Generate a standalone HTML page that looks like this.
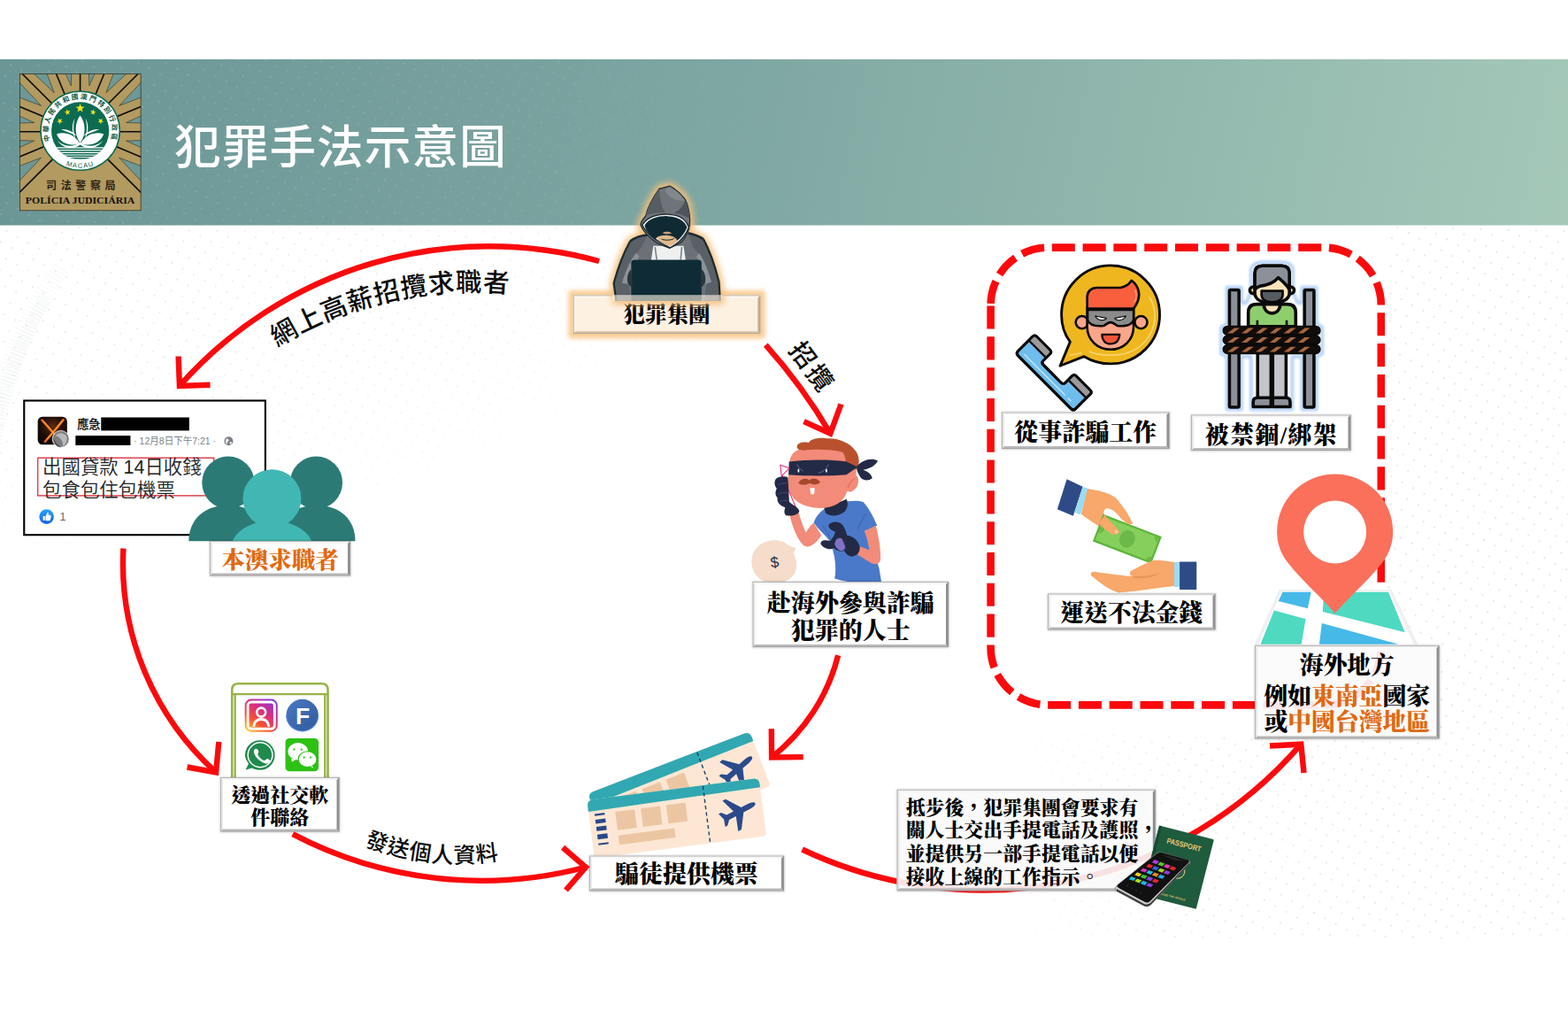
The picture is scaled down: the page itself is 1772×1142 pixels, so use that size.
<!DOCTYPE html>
<html lang="zh-Hant">
<head>
<meta charset="utf-8">
<title>犯罪手法示意圖</title>
<style>
html,body{margin:0;padding:0;background:#fff;}
body{width:1772px;height:1142px;overflow:hidden;position:relative;font-family:"Liberation Sans", "Noto Sans CJK TC", sans-serif;}
svg{position:absolute;left:0;top:0;display:block;}
.lb{font-family:"Liberation Serif", "Noto Serif CJK SC", serif;font-weight:900;}
.sans{font-family:"Liberation Sans", "Noto Sans CJK TC", sans-serif;}
.serif{font-family:"Liberation Serif", "Noto Serif CJK SC", serif;}
</style>
</head>
<body>
<svg width="1772" height="1142" viewBox="0 0 1772 1142">
<defs>
<filter id="blur1" x="-10%" y="-30%" width="120%" height="160%"><feGaussianBlur stdDeviation="1.2"/></filter>
<filter id="blur2" x="-20%" y="-20%" width="140%" height="140%"><feGaussianBlur stdDeviation="1.6"/></filter>
<filter id="blur3" x="-20%" y="-50%" width="140%" height="200%"><feGaussianBlur stdDeviation="2.6"/></filter>
<filter id="blur4" x="-20%" y="-50%" width="140%" height="200%"><feGaussianBlur stdDeviation="3.5"/></filter>
<filter id="blur6" x="-30%" y="-30%" width="160%" height="160%"><feGaussianBlur stdDeviation="5"/></filter>
<pattern id="dots" width="14" height="14" patternUnits="userSpaceOnUse" patternTransform="rotate(28)">
<circle cx="3" cy="3" r="1.1" fill="#dcdfdf"/>
</pattern>
<linearGradient id="fadeB" x1="0" y1="0" x2="1" y2="0"><stop offset="0" stop-color="#fff" stop-opacity="0"/><stop offset="0.35" stop-color="#fff" stop-opacity="0.8"/><stop offset="1" stop-color="#fff" stop-opacity="1"/></linearGradient>
<radialGradient id="fadeL" cx="0" cy="0" r="1" gradientUnits="objectBoundingBox">
<stop offset="0" stop-color="#fff" stop-opacity="1"/><stop offset="0.6" stop-color="#fff" stop-opacity="0.7"/><stop offset="1" stop-color="#fff" stop-opacity="0"/>
</radialGradient>
<mask id="mB" maskUnits="userSpaceOnUse" x="1100" y="830" width="672" height="230"><rect x="1100" y="830" width="672" height="230" fill="url(#fadeB)"/></mask>
<mask id="mL" maskUnits="userSpaceOnUse" x="0" y="250" width="900" height="420"><rect x="0" y="250" width="900" height="420" fill="url(#fadeL)"/></mask>
<pattern id="dotsW" width="14" height="14" patternUnits="userSpaceOnUse" patternTransform="rotate(28)">
<circle cx="3" cy="3" r="1.3" fill="#ffffff"/>
</pattern>
<linearGradient id="fadeH" x1="0" y1="0" x2="1" y2="0"><stop offset="0" stop-color="#fff" stop-opacity="1"/><stop offset="0.6" stop-color="#fff" stop-opacity="0.6"/><stop offset="1" stop-color="#fff" stop-opacity="0"/></linearGradient>
<mask id="mH" maskUnits="userSpaceOnUse" x="0" y="67" width="1000" height="188"><rect x="0" y="67" width="1000" height="188" fill="url(#fadeH)"/></mask>

</defs>
<rect x="0" y="0" width="1772" height="1142" fill="#ffffff"/>
<rect x="1568" y="256" width="204" height="574" fill="url(#dots)" opacity="0.9"/>
<rect x="1100" y="830" width="672" height="230" fill="url(#dots)" mask="url(#mB)" opacity="0.9"/>
<rect x="0" y="256" width="900" height="420" fill="url(#dots)" mask="url(#mL)" opacity="0.8"/>
<path d="M-6 500 C 4 440, 22 385, 52 335" fill="none" stroke="#dfe7e5" stroke-width="16" stroke-dasharray="1.3 2.6" opacity="0.35"/>
<path d="M-8 470 C 6 420, 30 360, 70 300" fill="none" stroke="#e3eae8" stroke-width="22" stroke-dasharray="1.2 3.4" opacity="0.25"/>

<linearGradient id="hdrg" x1="0" y1="67" x2="1772" y2="420" gradientUnits="userSpaceOnUse">
<stop offset="0" stop-color="#6a9696"/>
<stop offset="0.45" stop-color="#7ea6a2"/>
<stop offset="1" stop-color="#a6c9b9"/>
</linearGradient>
<rect x="0" y="67" width="1772" height="187.5" fill="url(#hdrg)"/>
<rect x="0" y="67" width="1000" height="187.5" fill="url(#dotsW)" mask="url(#mH)" opacity="0.13"/>
<text x="197" y="166" font-size="52.5" fill="#ffffff" class="sans" font-weight="500" dominant-baseline="central" letter-spacing="1.2">犯罪手法示意圖</text>

<g id="logo">
<clipPath id="logoclip"><rect x="22.4" y="83.5" width="136.7" height="154.3"/></clipPath>
<rect x="22.4" y="83.5" width="136.7" height="154.3" fill="#b29a60"/>
<g clip-path="url(#logoclip)">
<polygon points="142.6,159.1 342.5,153.0 324.9,241.3" fill="#6d9896" stroke="#1a1a10" stroke-width="0.5"/>
<polygon points="134.7,178.2 321.7,249.1 271.7,323.9" fill="#6d9896" stroke="#1a1a10" stroke-width="0.5"/>
<polygon points="46.5,178.2 -90.5,323.9 -140.5,249.1" fill="#6d9896" stroke="#1a1a10" stroke-width="0.5"/>
<polygon points="38.6,159.1 -143.7,241.3 -161.3,153.0" fill="#6d9896" stroke="#1a1a10" stroke-width="0.5"/>
<polygon points="38.6,138.5 -161.3,144.6 -143.7,56.3" fill="#6d9896" stroke="#1a1a10" stroke-width="0.5"/>
<polygon points="46.5,119.4 -140.5,48.5 -90.5,-26.3" fill="#6d9896" stroke="#1a1a10" stroke-width="0.5"/>
<polygon points="61.2,104.7 -84.5,-32.3 -9.7,-82.3" fill="#6d9896" stroke="#1a1a10" stroke-width="0.5"/>
<polygon points="80.3,96.8 -1.9,-85.5 86.4,-103.1" fill="#6d9896" stroke="#1a1a10" stroke-width="0.5"/>
<polygon points="100.9,96.8 94.8,-103.1 183.1,-85.5" fill="#6d9896" stroke="#1a1a10" stroke-width="0.5"/>
<polygon points="120.0,104.7 190.9,-82.3 265.7,-32.3" fill="#6d9896" stroke="#1a1a10" stroke-width="0.5"/>
<polygon points="134.7,119.4 271.7,-26.3 321.7,48.5" fill="#6d9896" stroke="#1a1a10" stroke-width="0.5"/>
<polygon points="142.6,138.5 324.9,56.3 342.5,144.6" fill="#6d9896" stroke="#1a1a10" stroke-width="0.5"/>
<line x1="130.6" y1="148.8" x2="290.6" y2="148.8" stroke="#0a0a08" stroke-width="1.6"/>
<line x1="127.6" y1="164.1" x2="275.4" y2="225.3" stroke="#0a0a08" stroke-width="1.6"/>
<line x1="118.9" y1="177.1" x2="232.0" y2="290.2" stroke="#0a0a08" stroke-width="1.6"/>
<line x1="62.3" y1="177.1" x2="-50.8" y2="290.2" stroke="#0a0a08" stroke-width="1.6"/>
<line x1="53.6" y1="164.1" x2="-94.2" y2="225.3" stroke="#0a0a08" stroke-width="1.6"/>
<line x1="50.6" y1="148.8" x2="-109.4" y2="148.8" stroke="#0a0a08" stroke-width="1.6"/>
<line x1="53.6" y1="133.5" x2="-94.2" y2="72.3" stroke="#0a0a08" stroke-width="1.6"/>
<line x1="62.3" y1="120.5" x2="-50.8" y2="7.4" stroke="#0a0a08" stroke-width="1.6"/>
<line x1="75.3" y1="111.8" x2="14.1" y2="-36.0" stroke="#0a0a08" stroke-width="1.6"/>
<line x1="90.6" y1="108.8" x2="90.6" y2="-51.2" stroke="#0a0a08" stroke-width="1.6"/>
<line x1="105.9" y1="111.8" x2="167.1" y2="-36.0" stroke="#0a0a08" stroke-width="1.6"/>
<line x1="118.9" y1="120.5" x2="232.0" y2="7.4" stroke="#0a0a08" stroke-width="1.6"/>
<line x1="127.6" y1="133.5" x2="275.4" y2="72.3" stroke="#0a0a08" stroke-width="1.6"/>
</g>
<rect x="22.4" y="83.5" width="136.7" height="154.3" fill="none" stroke="#2a2618" stroke-width="0.7"/>
<circle cx="90.65" cy="147.75" r="44.6" fill="#ffffff" stroke="#0c6a50" stroke-width="1.5"/>
<circle cx="90.65" cy="147.75" r="32.6" fill="#0b6a4f"/>
<clipPath id="discclip"><circle cx="90.65" cy="147.75" r="32.6"/></clipPath>
<g clip-path="url(#discclip)">
<rect x="50" y="166.3" width="82" height="20" fill="#ffffff"/>
<rect x="50" y="167.6" width="82" height="1.5" fill="#0b6a4f"/>
<rect x="50" y="170.3" width="82" height="1.5" fill="#0b6a4f"/>
<rect x="50" y="173.0" width="82" height="1.5" fill="#0b6a4f"/>
<rect x="50" y="175.6" width="82" height="1.5" fill="#0b6a4f"/>
<rect x="50" y="178.0" width="82" height="1.5" fill="#0b6a4f"/>
</g>
<g fill="#ffffff">
<path d="M90.6 130.5 C 84.5 138, 83.5 152, 90.6 161.5 C 97.7 152, 96.7 138, 90.6 130.5 Z"/>
<path d="M84.5 133.5 C 80.5 141, 81 151, 86 158.5 C 82.5 150, 82.5 142, 84.5 133.5 Z"/>
<path d="M96.7 133.5 C 100.7 141, 100.2 151, 95.2 158.5 C 98.7 150, 98.7 142, 96.7 133.5 Z"/>
<path d="M64 151.5 C 72 148.5, 84 151, 90 162 C 80 166, 68 162, 64 151.5 Z"/>
<path d="M117.2 151.5 C 109.2 148.5, 97.2 151, 91.2 162 C 101.2 166, 113.2 162, 117.2 151.5 Z"/>
<path d="M69 146 C 76 145.5, 83 148.5, 87 153.5 C 80 150, 74 148.5, 69 146 Z"/>
<path d="M112.2 146 C 105.2 145.5, 98.2 148.5, 94.2 153.5 C 101.2 150, 107.2 148.5, 112.2 146 Z"/>
<path d="M65 159 C 72 166, 84 167, 90.6 160.5 C 97.2 167, 109.2 166, 116.2 159 C 110 168.5, 97 169, 90.6 163.5 C 84.2 169, 71.2 168.5, 65 159 Z"/>
</g>
<polygon points="90.60,117.00 91.85,120.58 95.64,120.66 92.62,122.96 93.72,126.59 90.60,124.42 87.48,126.59 88.58,122.96 85.56,120.66 89.35,120.58" fill="#f5e51c"/>
<polygon points="75.37,123.32 76.82,125.46 79.32,124.84 77.74,126.88 79.10,129.07 76.67,128.19 75.01,130.16 75.09,127.58 72.70,126.61 75.18,125.89" fill="#f5e51c"/>
<polygon points="106.13,123.32 106.32,125.89 108.80,126.61 106.41,127.58 106.49,130.16 104.83,128.19 102.40,129.07 103.76,126.88 102.18,124.84 104.68,125.46" fill="#f5e51c"/>
<polygon points="65.80,133.68 67.75,135.37 70.01,134.12 69.01,136.50 70.89,138.26 68.32,138.05 67.22,140.38 66.64,137.87 64.08,137.55 66.28,136.21" fill="#f5e51c"/>
<polygon points="115.60,133.68 115.12,136.21 117.32,137.55 114.76,137.87 114.18,140.38 113.08,138.05 110.51,138.26 112.39,136.50 111.39,134.12 113.65,135.37" fill="#f5e51c"/>
<path id="ringtop" d="M57.76 162.39 A 36.0 36.0 0 1 1 123.54 162.39" fill="none"/>
<text font-size="7.8" fill="#0b5a44" class="sans" font-weight="700" text-anchor="middle" letter-spacing="1.95"><textPath href="#ringtop" startOffset="50%">中華人民共和國澳門特別行政區</textPath></text>
<path id="ringbot" d="M68.39 183.37 A 42.0 42.0 0 0 0 112.91 183.37" fill="none"/>
<text font-size="7.6" fill="#0b5a44" class="sans" text-anchor="middle" letter-spacing="1.1"><textPath href="#ringbot" startOffset="50%">MACAU</textPath></text>
<text x="93.6" y="209.8" font-size="12" fill="#2a2212" class="sans" font-weight="700" text-anchor="middle" dominant-baseline="central" letter-spacing="4.6">司法警察局</text>
<text x="90.6" y="230.4" font-size="11.4" fill="#14100a" class="serif" font-weight="700" text-anchor="middle" textLength="123.5" lengthAdjust="spacingAndGlyphs">POLÍCIA JUDICIÁRIA</text>
</g>
<g fill="none" stroke="#fb0a0d" stroke-width="6.4" stroke-linejoin="miter" stroke-miterlimit="10">
<path d="M906.6 959.5 A475.1 475.1 0 0 0 1470.3 840.7"/>
<path d="M1435.0 842.5 L1470.3 840.7 L1473.5 873.0"/>
</g>

<path d="M1119.6 344.6 A65 65 0 0 1 1184.6 279.6 L1495.8 279.6 A65 65 0 0 1 1560.8 344.6 L1560.8 731.4 A65 65 0 0 1 1495.8 796.4 L1184.6 796.4 A65 65 0 0 1 1119.6 731.4 Z" fill="none" stroke="#fb0a0d" stroke-width="8.6" stroke-dasharray="26.06 8.745" stroke-dashoffset="-1.7"/>

<g id="fbpost">
<rect x="27.26" y="452.52" width="272.58" height="151.69" rx="0.00" fill="#ffffff" stroke="#000000" stroke-width="2.1"/>
<radialGradient id="avg" cx="0.5" cy="0.35" r="0.7"><stop offset="0" stop-color="#5a2a10"/><stop offset="0.6" stop-color="#1a0c08"/><stop offset="1" stop-color="#0a0605"/></radialGradient>
<rect x="42.66" y="470.77" width="33.18" height="31.52" rx="5.21" fill="url(#avg)"/>
<path d="M 47.40 474.56 C 53.33 480.96 59.26 488.07 67.55 497.55 M 71.58 474.09 C 66.37 480.96 60.44 488.07 50.96 498.74" fill="none" stroke="#e8601a" stroke-width="2.6" stroke-linecap="round"/>
<path d="M 48.83 475.51 C 54.04 480.96 59.26 487.36 65.18 494.47 M 70.63 475.03 C 65.89 480.96 60.68 487.36 53.33 495.89" fill="none" stroke="#ffc93a" stroke-width="1.0" stroke-linecap="round"/>
<circle cx="68.74" cy="495.89" r="9.48" fill="#7d7d80" stroke="#ffffff" stroke-width="0.8"/>
<path d="M 62.81 492.10 C 65.18 488.07 72.29 488.07 75.37 492.81 C 76.32 497.55 74.66 502.29 71.11 504.19 C 71.11 498.74 68.74 494.00 62.81 492.10 Z" fill="#b9b9bb"/>
<path d="M 60.44 494.00 C 62.10 499.92 65.18 503.48 69.21 505.14 C 65.18 505.37 61.15 502.29 60.44 494.00 Z" fill="#3a3a3c"/>
<text x="87.2" y="479.3" font-size="13.2" font-weight="700" fill="#1c1e21" class="sans" dominant-baseline="central">應急</text>
<rect x="114.25" y="471.48" width="99.55" height="14.93" rx="0.00" fill="#000"/>
<rect x="85.33" y="492.10" width="62.10" height="10.90" rx="0.00" fill="#000"/>
<text x="151.2" y="497.8" font-size="11.6" fill="#7b7f86" class="sans" dominant-baseline="central" textLength="92.9" lengthAdjust="spacingAndGlyphs">· 12月8日下午7:21 ·</text>
<circle cx="258.36" cy="498.26" r="4.98" fill="#7b7f86"/>
<path d="M 255.51 495.89 C 257.41 494.94 259.30 496.37 258.36 498.26 C 256.93 499.21 255.98 500.63 256.93 502.05 C 255.04 501.11 254.09 498.26 255.51 495.89 Z M 259.78 499.21 C 261.67 498.74 262.62 500.16 261.67 501.58 C 260.73 502.53 259.30 501.11 259.78 499.21 Z" fill="#ffffff" opacity="0.85"/>
<rect x="42.66" y="517.22" width="199.10" height="42.66" rx="0.00" fill="none" stroke="#e0434f" stroke-width="1.5"/>
<text x="48.1" y="527.9" font-size="21.4" fill="#222326" class="sans" font-weight="350" dominant-baseline="central">出國貸款 14日收錢</text>
<text x="48.1" y="553.5" font-size="21.4" fill="#222326" class="sans" font-weight="350" dominant-baseline="central">包食包住包機票</text>
<linearGradient id="likeg" x1="0" y1="0" x2="0" y2="1"><stop offset="0" stop-color="#2aa4ff"/><stop offset="1" stop-color="#1060e8"/></linearGradient>
<circle cx="52.62" cy="583.59" r="8.30" fill="url(#likeg)"/>
<path d="M 48.59 582.88 L 50.72 582.88 L 50.72 587.86 L 48.59 587.86 Z M 51.43 583.12 C 52.62 581.69 53.33 580.27 53.33 578.85 C 54.52 578.38 55.23 579.80 54.75 581.69 L 56.89 581.69 C 57.83 582.17 57.83 583.12 57.36 583.59 C 57.83 584.30 57.60 585.01 57.12 585.49 C 57.36 586.20 57.12 586.91 56.65 587.15 C 56.65 587.86 56.17 588.33 55.46 588.33 L 52.62 588.33 C 52.15 588.33 51.67 588.09 51.43 587.86 Z" fill="#ffffff"/>
<text x="67.6" y="584.1" font-size="12.5" fill="#65676b" class="sans" dominant-baseline="central">1</text>
</g>

<g id="people">
<circle cx="257.88" cy="545.19" r="29.63" fill="#2c7a76"/>
<path d="M 213.32 611.32 C 213.32 587.38 230.25 570.79 257.88 570.79 C 285.51 570.79 302.44 587.38 302.44 611.32 Z" fill="#2c7a76"/>
<circle cx="357.43" cy="545.19" r="29.63" fill="#2c7a76"/>
<path d="M 313.34 611.32 C 313.34 587.38 330.10 570.79 357.43 570.79 C 384.76 570.79 401.52 587.38 401.52 611.32 Z" fill="#2c7a76"/>
<circle cx="307.42" cy="563.21" r="32.95" fill="#41b7b3"/>
<path d="M 261.44 617.25 C 261.44 604.92 278.91 588.33 307.42 588.33 C 335.93 588.33 353.40 604.92 353.40 617.25 Z" fill="#41b7b3"/>
</g>

<rect x="236.5" y="610.5" width="160.5" height="41.0" fill="#000" opacity="0.18" filter="url(#blur1)"/>
<rect x="237" y="611" width="159" height="39.5" fill="#fff" fill-opacity="1"/>
<polygon points="237,611 396,611 393.0,614.0 240.0,614.0" fill="#f4f4f4"/>
<polygon points="237,611 240.0,614.0 240.0,647.5 237,650.5" fill="#e9e9e9"/>
<polygon points="237,650.5 240.0,647.5 393.0,647.5 396,650.5" fill="#b9b9b9"/>
<polygon points="396,611 396,650.5 393.0,647.5 393.0,614.0" fill="#8f8f8f"/>
<rect x="237.5" y="611.5" width="158" height="38.5" fill="none" stroke="#9a9a9a" stroke-width="1" opacity="0.7"/>
<text x="316.5" y="632.0" font-size="26.5" fill="#e0690f" text-anchor="middle" dominant-baseline="central" class="lb" dy="0.7" >本澳求職者</text>
<rect x="642.3" y="327.9" width="222.5" height="54.60000000000002" rx="3" fill="#f9cd95" filter="url(#blur3)"/>
<rect x="647.8" y="333.4" width="211.5" height="43.60000000000002" fill="#fdf1e2" fill-opacity="1"/>
<polygon points="647.8,333.4 859.3,333.4 856.3,336.4 650.8,336.4" fill="#fffaf3"/>
<polygon points="647.8,333.4 650.8,336.4 650.8,374.0 647.8,377" fill="#fdf3e6"/>
<polygon points="647.8,377 650.8,374.0 856.3,374.0 859.3,377" fill="#dcc6a8"/>
<polygon points="859.3,333.4 859.3,377 856.3,374.0 856.3,336.4" fill="#c9b296"/>
<rect x="648.3" y="333.9" width="210.5" height="42.60000000000002" fill="none" stroke="#9a9a9a" stroke-width="1" opacity="0.7"/>
<text x="753.55" y="355.0" font-size="24.5" fill="#000" text-anchor="middle" dominant-baseline="central" class="lb" dy="0.7" >犯罪集團</text>
<g id="hacker">
<path d="M 756.71 210.11 L 744.88 213.39 C 738.31 222.59 731.74 234.41 729.77 243.61 C 726.49 247.55 723.86 251.49 723.86 254.12 C 725.18 258.06 727.80 262.00 731.74 265.28 C 725.18 265.94 717.29 268.57 712.04 272.51 C 705.47 284.33 698.24 302.72 693.65 319.80 L 696.27 339.51 L 813.85 339.51 L 812.54 318.49 C 807.94 300.10 801.37 281.71 794.80 269.88 C 789.55 266.60 784.29 264.63 777.72 263.31 C 780.35 258.06 781.01 252.80 779.70 247.55 C 779.04 238.35 777.07 230.47 774.44 225.22 C 769.84 218.65 763.27 213.39 756.71 210.11 Z" fill="#f4bf7c" stroke="#f4bf7c" stroke-width="9" stroke-linejoin="round" filter="url(#blur4)" opacity="0.95"/>
<path d="M 756.71 210.11 L 744.88 213.39 C 738.31 222.59 731.74 234.41 729.77 243.61 C 726.49 247.55 723.86 251.49 723.86 254.12 C 725.18 258.06 727.80 262.00 731.74 265.28 C 725.18 265.94 717.29 268.57 712.04 272.51 C 705.47 284.33 698.24 302.72 693.65 319.80 L 696.27 339.51 L 813.85 339.51 L 812.54 318.49 C 807.94 300.10 801.37 281.71 794.80 269.88 C 789.55 266.60 784.29 264.63 777.72 263.31 C 780.35 258.06 781.01 252.80 779.70 247.55 C 779.04 238.35 777.07 230.47 774.44 225.22 C 769.84 218.65 763.27 213.39 756.71 210.11 Z" fill="#6b7177"/>
<path d="M 712.04 272.51 C 705.47 284.33 698.24 302.72 693.65 319.80 L 696.27 339.51 L 713.35 339.51 L 709.41 313.23 C 713.35 300.10 717.29 286.96 725.18 279.08 L 731.74 265.28 C 725.18 265.94 717.29 268.57 712.04 272.51 Z" fill="#596167"/>
<path d="M 794.80 269.88 C 801.37 281.71 807.94 300.10 812.54 318.49 L 813.85 339.51 L 796.12 339.51 L 799.40 313.23 C 796.12 300.10 790.86 286.96 782.98 279.08 L 777.72 263.31 C 784.29 264.63 789.55 266.60 794.80 269.88 Z" fill="#596167"/>
<path d="M 702.84 319.80 C 706.78 306.67 712.04 294.84 718.61 285.65 L 722.55 289.59 C 717.29 298.78 713.35 309.29 710.73 321.12 Z" fill="#8c9297"/>
<path d="M 804.00 318.49 C 800.71 306.67 796.12 294.84 790.20 285.65 L 786.92 289.59 C 791.52 298.78 794.80 309.29 796.77 321.12 Z" fill="#8c9297"/>
<path d="M 712.04 272.51 C 705.47 284.33 698.24 302.72 693.65 319.80 L 696.27 339.51" fill="none" stroke="#1c2a30" stroke-width="2.2"/>
<path d="M 794.80 269.88 C 801.37 281.71 807.94 300.10 812.54 318.49 L 813.85 339.51" fill="none" stroke="#1c2a30" stroke-width="2.2"/>
<path d="M 731.74 265.28 C 725.18 265.94 717.29 268.57 712.04 272.51 M 777.72 263.31 C 784.29 264.63 789.55 266.60 794.80 269.88" fill="none" stroke="#1c2a30" stroke-width="2.5"/>
<path d="M 738.31 277.76 L 772.47 277.76 L 775.10 294.84 L 735.69 294.84 Z" fill="#eef0f0"/>
<path d="M 740.28 279.08 L 742.25 293.53 M 770.50 279.08 L 769.19 293.53" fill="none" stroke="#7a8085" stroke-width="1.6"/>
<path d="M 756.71 210.11 L 744.88 213.39 C 738.31 222.59 731.74 234.41 729.77 243.61 C 726.49 247.55 723.86 251.49 723.86 254.12 C 726.49 260.69 733.06 268.57 743.57 275.14 L 756.71 280.39 L 769.84 273.82 C 775.10 268.57 779.04 262.00 779.70 247.55 C 779.04 238.35 777.07 230.47 774.44 225.22 C 769.84 218.65 763.27 213.39 756.71 210.11 Z" fill="#6e7479" stroke="#1c2a30" stroke-width="1.2"/>
<path d="M 744.88 213.39 C 738.31 222.59 731.74 234.41 729.77 243.61 C 735.69 240.98 743.57 239.67 751.45 240.32 C 747.51 233.10 745.54 222.59 744.88 213.39 Z" fill="#565d63"/>
<path d="M 774.44 225.22 C 777.07 230.47 779.04 238.35 779.70 247.55 C 775.10 243.61 768.53 241.24 761.96 240.72 C 768.53 237.04 772.47 231.78 774.44 225.22 Z" fill="#4d545a"/>
<path d="M 751.45 214.71 C 754.08 221.27 761.96 227.84 773.78 226.53 C 769.84 219.96 763.27 214.71 756.71 210.76 Z" fill="#81878c"/>
<path d="M 725.83 254.12 C 731.74 244.92 743.57 241.64 754.08 242.03 C 765.90 242.29 775.10 246.89 778.38 256.74 C 775.10 265.94 768.53 273.82 757.36 279.73 C 744.88 273.82 731.74 265.94 725.83 254.12 Z" fill="#f4f5f5" stroke="#1c2a30" stroke-width="1.3"/>
<path d="M 728.46 254.77 C 733.06 246.89 743.57 243.87 754.08 244.13 C 765.24 244.40 773.78 248.86 776.41 256.74 C 773.78 263.31 769.84 268.57 764.59 272.51 C 760.65 268.57 754.08 265.94 748.82 266.60 C 744.88 266.99 742.25 268.57 740.28 270.54 C 735.03 266.60 730.43 261.34 728.46 254.77 Z" fill="#0f2a33"/>
<path d="M 741.60 268.57 C 744.88 265.94 750.14 265.28 755.39 265.94 C 760.65 266.60 763.93 268.57 765.24 271.20 C 763.27 275.14 760.65 277.11 757.36 278.03 C 751.45 277.11 746.20 273.82 741.60 268.57 Z" fill="#e3b98d"/>
<path d="M 746.20 269.22 C 750.14 271.20 758.02 271.20 762.62 268.83 C 760.65 272.51 748.82 272.77 746.20 269.22 Z" fill="#0f2a33"/>
<path d="M 748.82 263.31 C 751.45 261.34 756.71 261.34 759.33 263.58 C 756.71 264.63 751.45 264.63 748.82 263.31 Z" fill="#c9a27a"/>
<path d="M 717.03 293.53 L 789.15 293.53 Q 792.83 293.53 792.83 297.21 L 792.83 339.51 L 713.35 339.51 L 713.35 297.21 Q 713.35 293.53 717.03 293.53 Z" fill="#0f2c36"/>
<path d="M 713.35 304.04 C 709.41 307.98 708.10 313.23 709.41 319.80 L 714.67 326.37 Z M 792.83 304.04 C 796.77 307.98 798.09 313.23 796.77 319.80 L 791.52 326.37 Z" fill="#2a363c"/>
<rect x="692.33" y="333.20" width="123.49" height="6.57" rx="0.00" fill="#fdf3e6" opacity="0.62"/>
</g>

<g id="social">
<path d="M 262.19 880.63 L 262.19 779.35 Q 262.19 772.29 269.25 772.29 L 363.47 772.29 Q 370.53 772.29 370.53 779.35 L 370.53 880.63" fill="#ffffff" stroke="#98b349" stroke-width="2.6"/>
<path d="M 262.19 784.13 L 370.53 784.13 M 265.60 784.13 L 265.60 880.63 M 367.23 784.13 L 367.23 880.63" fill="none" stroke="#98b349" stroke-width="2.3"/>
<linearGradient id="igg" x1="0.15" y1="1" x2="0.85" y2="0"><stop offset="0" stop-color="#fdc13a"/><stop offset="0.3" stop-color="#f6512f"/><stop offset="0.65" stop-color="#d32c8c"/><stop offset="1" stop-color="#7a3fd8"/></linearGradient>
<rect x="276.64" y="789.59" width="37.10" height="37.10" rx="7.06" fill="url(#igg)"/>
<rect x="280.06" y="793.00" width="30.27" height="30.27" rx="3.87" fill="none" stroke="#ffffff" stroke-width="2.9"/>
<circle cx="295.19" cy="804.61" r="5.01" fill="none" stroke="#ffffff" stroke-width="2.6"/>
<path d="M 286.66 820.88 C 287.23 814.62 291.21 812.57 295.19 812.57 C 299.17 812.57 303.16 814.62 303.73 820.88" fill="none" stroke="#ffffff" stroke-width="2.9"/>
<linearGradient id="fbg" x1="0" y1="0" x2="1" y2="1"><stop offset="0" stop-color="#4a78c2"/><stop offset="1" stop-color="#2f5a9a"/></linearGradient>
<circle cx="341.62" cy="808.02" r="18.21" fill="url(#fbg)"/>
<path d="M 323.64 808.02 A 17.98 17.98 0 0 0 359.60 808.02" fill="none" stroke="#5b8ee6" stroke-width="1.1" opacity="0.9"/>
<text x="342.08" y="818.26" font-size="26.5" font-weight="700" fill="#ffffff" class="sans" text-anchor="middle">F</text>
<path d="M 277.55 869.82 L 280.97 862.42 C 277.55 857.87 276.64 854.45 276.98 851.61 A 16.84 16.84 0 1 1 293.49 869.82 C 290.07 869.82 286.66 868.68 284.38 867.54 Z" fill="#1f8a4c"/>
<circle cx="294.05" cy="852.75" r="13.88" fill="none" stroke="#ffffff" stroke-width="1.5"/>
<path d="M 288.36 845.92 C 290.64 844.78 291.78 847.62 292.57 849.33 C 291.78 851.04 290.98 851.61 291.44 852.75 C 293.49 856.16 295.76 858.09 298.61 859.23 C 299.74 859.00 300.88 857.30 302.02 856.96 C 303.73 857.64 305.43 858.78 305.78 859.57 C 305.43 861.85 302.59 862.99 300.31 862.42 C 294.62 861.05 288.93 856.16 287.23 851.04 C 286.43 848.76 286.88 846.71 288.36 845.92 Z" fill="#ffffff"/>
<rect x="322.50" y="833.97" width="37.55" height="37.33" rx="4.55" fill="#2dc114"/>
<ellipse cx="336.73" cy="848.76" rx="11.38" ry="9.67" fill="#ffffff"/>
<path d="M 328.76 856.73 L 329.90 860.71 L 334.45 857.87 Z" fill="#ffffff"/>
<ellipse cx="347.54" cy="857.64" rx="10.47" ry="8.88" fill="#ffffff" stroke="#2dc114" stroke-width="1.2"/>
<path d="M 352.66 865.26 L 354.71 867.54 L 350.38 865.83 Z" fill="#ffffff"/>
<circle cx="332.40" cy="846.71" r="1.14" fill="#2dc114"/>
<circle cx="340.71" cy="846.71" r="1.14" fill="#2dc114"/>
<circle cx="343.56" cy="855.59" r="1.14" fill="#2dc114"/>
<circle cx="350.95" cy="855.59" r="1.14" fill="#2dc114"/>
</g>

<rect x="248.5" y="877.5" width="136.0" height="63.0" fill="#000" opacity="0.18" filter="url(#blur1)"/>
<rect x="249" y="878" width="134.5" height="61.5" fill="#fff" fill-opacity="1"/>
<polygon points="249,878 383.5,878 380.5,881.0 252.0,881.0" fill="#f4f4f4"/>
<polygon points="249,878 252.0,881.0 252.0,936.5 249,939.5" fill="#e9e9e9"/>
<polygon points="249,939.5 252.0,936.5 380.5,936.5 383.5,939.5" fill="#b9b9b9"/>
<polygon points="383.5,878 383.5,939.5 380.5,936.5 380.5,881.0" fill="#8f8f8f"/>
<rect x="249.5" y="878.5" width="133.5" height="60.5" fill="none" stroke="#9a9a9a" stroke-width="1" opacity="0.7"/>
<text x="316.25" y="898" font-size="22" fill="#000" text-anchor="middle" dominant-baseline="central" class="lb" dy="0.7" >透過社交軟</text>
<text x="316.25" y="923" font-size="22" fill="#000" text-anchor="middle" dominant-baseline="central" class="lb" dy="0.7" >件聯絡</text>
<g id="tickets">
<g transform="translate(664.2 896.4) rotate(-21.0)">
<path d="M0 6 Q0 0 6 0 L190 0 Q196 0 196 6 L196 62 Q196 66 192 66 L4 66 Q0 66 0 62 Z" fill="#fde7d4"/>
<path d="M0 14.0 L0 7 Q0 0 7 0 L189 0 Q196 0 196 7 L196 11.5 Z" fill="#31a8b1"/>
<rect x="30" y="17" width="22" height="21" fill="#ecc6a3"/>
<rect x="59" y="17" width="22" height="21" fill="#ecc6a3"/>
<rect x="88" y="17" width="22" height="21" fill="#ecc6a3"/>
<rect x="30" y="44" width="64" height="10.5" fill="#ecc6a3"/>
<rect x="6.5" y="16.5" width="11.5" height="2.2" fill="#27478a"/>
<rect x="6.5" y="23" width="11.5" height="4.5" fill="#27478a"/>
<rect x="6.5" y="31" width="11.5" height="5" fill="#27478a"/>
<rect x="6.5" y="40" width="11.5" height="5.5" fill="#27478a"/>
<rect x="6.5" y="50" width="11.5" height="2" fill="#27478a"/>
<line x1="132" y1="1" x2="132" y2="65" stroke="#1f3f6a" stroke-width="1.4" stroke-dasharray="4.2 3.2"/>
<g transform="translate(168 35) rotate(70) scale(1.02)"><path d="M0 -21 C2.2 -21 3 -17 3 -13 L3 -5 L19 6 L19 10 L3 4.5 L3 13 L8 17.5 L8 20.5 L0 18 L-8 20.5 L-8 17.5 L-3 13 L-3 4.5 L-19 10 L-19 6 L-3 -5 L-3 -13 C-3 -17 -2.2 -21 0 -21 Z" fill="#2b4a8b"/></g>
</g>
<g transform="translate(663.3 904) rotate(-7.4)">
<path d="M0 6 Q0 0 6 0 L190 0 Q196 0 196 6 L196 62 Q196 66 192 66 L4 66 Q0 66 0 62 Z" fill="#fde7d4"/>
<path d="M0 13.0 L0 7 Q0 0 7 0 L189 0 Q196 0 196 7 L196 10.5 Z" fill="#31a8b1"/>
<rect x="30" y="17" width="22" height="21" fill="#ecc6a3"/>
<rect x="59" y="17" width="22" height="21" fill="#ecc6a3"/>
<rect x="88" y="17" width="22" height="21" fill="#ecc6a3"/>
<rect x="30" y="44" width="64" height="10.5" fill="#ecc6a3"/>
<rect x="6.5" y="16.5" width="11.5" height="2.2" fill="#27478a"/>
<rect x="6.5" y="23" width="11.5" height="4.5" fill="#27478a"/>
<rect x="6.5" y="31" width="11.5" height="5" fill="#27478a"/>
<rect x="6.5" y="40" width="11.5" height="5.5" fill="#27478a"/>
<rect x="6.5" y="50" width="11.5" height="2" fill="#27478a"/>
<line x1="132" y1="1" x2="132" y2="65" stroke="#1f3f6a" stroke-width="1.4" stroke-dasharray="4.2 3.2"/>
<g transform="translate(168 35) rotate(70) scale(1.02)"><path d="M0 -21 C2.2 -21 3 -17 3 -13 L3 -5 L19 6 L19 10 L3 4.5 L3 13 L8 17.5 L8 20.5 L0 18 L-8 20.5 L-8 17.5 L-3 13 L-3 4.5 L-19 10 L-19 6 L-3 -5 L-3 -13 C-3 -17 -2.2 -21 0 -21 Z" fill="#2b4a8b"/></g>
</g>
</g>

<rect x="665.5" y="966.0" width="221.5" height="41.5" fill="#000" opacity="0.18" filter="url(#blur1)"/>
<rect x="666" y="966.5" width="220" height="40.0" fill="#fff" fill-opacity="1"/>
<polygon points="666,966.5 886,966.5 883.0,969.5 669.0,969.5" fill="#f4f4f4"/>
<polygon points="666,966.5 669.0,969.5 669.0,1003.5 666,1006.5" fill="#e9e9e9"/>
<polygon points="666,1006.5 669.0,1003.5 883.0,1003.5 886,1006.5" fill="#b9b9b9"/>
<polygon points="886,966.5 886,1006.5 883.0,1003.5 883.0,969.5" fill="#8f8f8f"/>
<rect x="666.5" y="967.0" width="219" height="39.0" fill="none" stroke="#9a9a9a" stroke-width="1" opacity="0.7"/>
<text x="776.0" y="987.5" font-size="27" fill="#000" text-anchor="middle" dominant-baseline="central" class="lb" dy="0.7" >騙徒提供機票</text>
<g id="thief">
<path d="M 849.45 634.68 C 849.45 618.92 862.06 610.26 875.45 610.26 C 882.54 610.26 888.05 612.62 891.99 616.56 L 899.56 618.92 L 896.72 625.22 C 900.66 631.53 901.45 639.40 898.30 647.28 C 893.57 655.16 884.12 659.10 875.45 659.10 C 860.48 659.10 849.45 648.86 849.45 634.68 Z" fill="#f5dccb"/>
<text x="875.4" y="635.5" font-size="17" fill="#232a45" class="sans" text-anchor="middle" dominant-baseline="central" transform="rotate(-8 875.4 635.5)">$</text>
<path d="M 934.53 573.23 C 947.14 566.93 966.04 563.78 975.50 566.93 C 981.80 573.23 988.10 585.84 991.25 593.71 L 977.07 600.01 C 981.80 611.04 989.68 626.80 993.62 642.55 L 995.98 656.73 C 981.80 659.89 959.74 659.10 943.20 653.58 C 945.56 642.55 943.99 626.80 937.68 611.04 C 931.38 603.17 925.08 598.44 919.57 590.56 C 921.93 582.68 928.23 576.38 934.53 573.23 Z" fill="#4b79c9"/>
<path d="M 969.19 598.44 C 970.77 593.71 973.92 587.41 978.65 579.53 M 929.81 593.71 C 932.96 598.44 936.11 603.17 938.47 609.47" fill="none" stroke="#3a62ab" stroke-width="1"/>
<path d="M 891.99 579.53 C 895.14 595.29 901.45 609.47 907.75 615.77 C 914.05 620.50 921.93 614.19 928.23 604.74 L 919.57 590.56 C 915.63 593.71 912.48 598.44 910.90 601.59 C 907.75 595.29 904.60 585.84 902.23 577.96 Z" fill="#f28b79"/>
<path d="M 977.07 600.01 L 989.68 593.71 C 992.83 604.74 995.19 618.92 995.19 629.95 C 995.19 636.25 991.25 638.62 984.95 636.25 L 969.19 626.80 L 971.56 617.35 L 982.59 621.28 C 981.01 614.19 979.44 606.32 977.07 600.01 Z" fill="#f28b79"/>
<path d="M 931.38 573.23 C 937.68 570.87 950.29 566.93 956.59 563.78 C 958.95 568.50 958.17 574.81 953.44 578.75 C 947.14 583.47 937.68 583.47 932.96 579.53 Z" fill="#232a45"/>
<path d="M 891.99 524.39 C 891.99 513.36 899.87 506.27 910.90 506.27 L 950.29 506.27 C 961.32 506.27 967.62 514.94 967.62 525.96 L 967.62 536.99 C 970.77 538.57 971.56 548.02 966.04 552.75 C 962.89 555.90 959.74 555.90 957.38 555.11 C 953.44 566.93 942.41 574.02 928.23 574.02 C 906.17 574.02 890.42 563.78 890.42 544.87 Z" fill="#f28b79"/>
<path d="M 958.17 551.17 C 959.74 546.45 962.89 542.51 966.04 540.14" fill="none" stroke="#d8604f" stroke-width="1"/>
<path d="M 900.66 505.48 C 899.87 500.76 906.17 498.39 914.05 499.97 C 915.63 496.03 925.08 493.67 934.53 495.24 C 950.29 494.45 964.47 502.33 969.19 513.36 C 971.56 519.66 970.77 525.96 968.41 529.90 L 955.80 530.69 C 956.59 522.81 955.80 516.51 952.65 511.00 C 940.84 507.06 918.78 507.06 909.32 508.63 C 904.60 508.63 901.45 507.85 900.66 505.48 Z" fill="#b9512f"/>
<path d="M 891.68 521.55 C 910.90 518.87 937.68 518.87 955.80 521.24 L 969.19 527.54 L 956.59 536.21 C 937.68 537.78 910.90 537.78 891.21 536.21 Z" fill="#232a45"/>
<path d="M 968.41 526.75 C 973.92 519.66 984.95 516.51 992.04 520.45 C 989.68 525.96 981.80 529.90 975.50 530.69 C 980.22 532.27 984.95 535.42 985.74 540.14 C 980.22 544.08 973.92 542.51 971.56 537.78 C 969.19 533.84 967.62 530.69 968.41 526.75 Z" fill="#232a45"/>
<ellipse cx="902.39" cy="531.64" rx="0.95" ry="2.05" fill="#ffffff"/>
<ellipse cx="933.90" cy="531.64" rx="0.95" ry="2.05" fill="#ffffff"/>
<path d="M 900.66 524.39 C 902.23 528.33 904.60 530.69 907.75 531.95 M 936.11 524.39 C 934.53 529.12 930.59 533.05 925.08 534.16" fill="none" stroke="#6a6aa8" stroke-width="0.9"/>
<path d="M 902.23 545.66 C 904.60 540.93 910.90 539.36 914.84 542.51 C 917.99 539.36 924.29 540.14 926.97 544.87 C 924.29 548.02 919.57 547.71 915.31 545.66 C 910.90 548.02 905.39 548.34 902.23 545.66 Z" fill="#a5482a"/>
<path d="M 915.31 551.17 L 920.67 551.17 L 920.35 556.69 C 919.57 559.05 916.89 559.05 915.94 556.69 Z" fill="#ffffff"/>
<path d="M 881.75 525.18 L 891.99 528.80 L 884.12 536.99 L 899.08 572.44 L 887.27 570.87 Z" fill="#ffffff" stroke="#ee2f7b" stroke-width="1.1" stroke-linejoin="round"/>
<path d="M 876.24 541.72 C 879.39 537.78 887.27 537.78 890.42 539.36 C 891.21 548.02 891.21 557.48 891.99 566.93 C 896.72 570.87 902.23 573.23 903.34 577.17 C 902.23 581.90 893.57 583.47 888.05 581.90 C 885.69 579.53 886.48 576.38 887.27 573.23 C 880.96 570.87 877.81 566.93 878.60 562.20 C 875.45 559.05 876.24 554.32 877.81 551.96 C 874.98 548.02 874.98 544.87 876.24 541.72 Z" fill="#232a45"/>
<path d="M 878.60 548.02 C 882.54 545.66 886.48 545.19 890.10 546.13 M 879.07 558.26 C 882.54 556.21 886.95 555.90 890.73 556.69 M 881.28 566.93 C 884.12 565.35 887.27 565.04 890.42 565.67" fill="none" stroke="#4a5078" stroke-width="0.8"/>
<path d="M 936.11 593.71 C 939.26 588.20 948.71 588.20 952.65 593.71 C 955.80 598.44 956.59 602.38 957.38 604.74 C 964.47 605.53 969.98 611.04 971.56 617.35 C 972.35 623.65 968.41 628.37 962.10 628.69 C 957.38 627.59 955.01 624.44 954.23 622.07 C 950.29 623.65 945.56 622.07 942.41 618.92 C 937.68 622.07 929.81 618.92 927.44 614.19 C 927.44 610.26 932.17 609.47 938.47 611.04 C 940.84 607.89 943.20 604.74 943.99 600.80 C 940.84 599.23 936.90 597.65 936.11 593.71 Z" fill="#232a45"/>
<path d="M 944.77 609.47 C 948.71 606.32 953.44 607.89 955.80 612.62 C 957.38 617.35 955.01 621.28 951.08 622.39 C 947.14 621.76 943.99 618.13 943.20 614.19 Z" fill="#7f72c6"/>
<path d="M 950.29 604.74 C 953.44 609.47 956.59 615.77 956.91 622.07 M 959.74 607.10 C 962.89 612.62 964.47 618.92 963.68 625.22" fill="none" stroke="#232a45" stroke-width="2.2" stroke-linecap="round"/>
</g>

<rect x="850.0" y="656.5" width="223.0" height="75.5" fill="#000" opacity="0.18" filter="url(#blur1)"/>
<rect x="850.5" y="657" width="221.5" height="74" fill="#fff" fill-opacity="1"/>
<polygon points="850.5,657 1072,657 1069.0,660.0 853.5,660.0" fill="#f4f4f4"/>
<polygon points="850.5,657 853.5,660.0 853.5,728.0 850.5,731" fill="#e9e9e9"/>
<polygon points="850.5,731 853.5,728.0 1069.0,728.0 1072,731" fill="#b9b9b9"/>
<polygon points="1072,657 1072,731 1069.0,728.0 1069.0,660.0" fill="#8f8f8f"/>
<rect x="851.0" y="657.5" width="220.5" height="73" fill="none" stroke="#9a9a9a" stroke-width="1" opacity="0.7"/>
<text x="961.25" y="681" font-size="27" fill="#000" text-anchor="middle" dominant-baseline="central" class="lb" dy="0.7" >赴海外參與詐騙</text>
<text x="961.25" y="712.5" font-size="27" fill="#000" text-anchor="middle" dominant-baseline="central" class="lb" dy="0.7" >犯罪的人士</text>
<g id="call">
<path d="M 1209.36 386.15 C 1202.26 376.70 1199.58 365.66 1199.58 355.42 A 55.49 55.49 0 1 1 1255.07 410.90 C 1244.04 410.90 1233.79 407.91 1225.12 402.70 L 1198.01 413.27 Z" fill="#efb71f" stroke="#0a0a0a" stroke-width="2.9" stroke-linejoin="round"/>
<path d="M 1299.21 335.71 C 1305.51 346.75 1307.09 359.36 1302.36 371.97 C 1297.63 384.58 1286.60 395.61 1270.83 399.55 C 1256.65 402.70 1240.88 401.13 1231.42 397.19" fill="none" stroke="#f7d874" stroke-width="1.5" stroke-linecap="round"/>
<path d="M 1209.36 401.13 L 1221.97 398.76" fill="none" stroke="#f7d874" stroke-width="1.5" stroke-linecap="round"/>
<circle cx="1222.76" cy="364.09" r="7.09" fill="#f9a68b" stroke="#0a0a0a" stroke-width="2.6"/>
<circle cx="1289.43" cy="364.09" r="7.09" fill="#f9a68b" stroke="#0a0a0a" stroke-width="2.6"/>
<path d="M 1228.59 348.32 L 1281.08 348.32 L 1281.08 368.81 C 1281.08 384.58 1269.26 394.82 1255.07 394.82 C 1240.88 394.82 1228.59 384.58 1228.59 368.81 Z" fill="#f9a68b" stroke="#0a0a0a" stroke-width="2.6" stroke-linejoin="round"/>
<path d="M 1228.59 348.64 L 1228.59 335.71 C 1228.59 329.41 1233.00 324.99 1239.31 324.99 L 1266.10 324.99 C 1272.41 323.89 1276.35 320.74 1278.71 316.80 C 1287.38 323.10 1291.32 335.71 1281.08 348.64 Z" fill="#f95f3d" stroke="#0a0a0a" stroke-width="2.6" stroke-linejoin="round"/>
<path d="M 1282.65 327.83 C 1285.02 332.56 1284.23 337.29 1281.87 341.23" fill="none" stroke="#fca08a" stroke-width="1.3" stroke-linecap="round"/>
<path d="M 1229.06 349.90 L 1281.08 349.90 L 1281.08 361.72 C 1278.71 367.24 1270.83 368.81 1262.95 368.03 C 1259.01 365.66 1257.43 364.09 1255.07 364.09 C 1252.70 364.09 1251.13 365.66 1247.19 368.03 C 1239.31 368.81 1231.42 367.24 1229.06 361.72 Z" fill="#8b8b8b" stroke="#0a0a0a" stroke-width="2.6" stroke-linejoin="round"/>
<path d="M 1237.73 356.99 L 1250.34 359.36 C 1248.76 362.82 1240.88 362.82 1237.73 356.99 Z M 1272.41 356.99 L 1259.80 359.36 C 1261.37 362.82 1269.26 362.82 1272.41 356.99 Z" fill="#ffffff" stroke="#0a0a0a" stroke-width="1.2" stroke-linejoin="round"/>
<path d="M 1245.30 377.96 L 1265.32 377.96 C 1264.53 386.15 1259.80 388.52 1255.07 388.52 C 1250.34 388.52 1245.93 386.15 1245.30 377.96 Z" fill="#f4553a" stroke="#0a0a0a" stroke-width="2.2" stroke-linejoin="round"/>
<g transform="translate(1190.44 420.83) rotate(45)">
<path d="M-45.40 11.03 Q-45.40 14.82 -41.61 14.82 L42.88 14.82 Q46.66 14.82 46.66 11.03 L46.66 -12.30 Q46.66 -15.45 43.51 -15.45 L20.81 -15.45 Q17.65 -15.45 17.65 -12.30 L17.65 -1.58 Q17.65 1.89 14.19 1.89 L-14.19 1.89 Q-17.65 1.89 -17.65 -1.58 L-17.65 -12.30 Q-17.65 -15.45 -20.81 -15.45 L-42.24 -15.45 Q-45.40 -15.45 -45.40 -12.30 Z" fill="#6fbdec" stroke="#0a0a0a" stroke-width="2.9" stroke-linejoin="round"/>
<path d="M-45.08 -6.31 L-17.97 -6.31 L-17.97 -12.61 Q-17.97 -15.13 -20.81 -15.13 L-42.24 -15.13 Q-45.08 -15.13 -45.08 -12.61 Z" fill="#9a9a9a"/>
<path d="M17.97 -6.31 L46.34 -6.31 L46.34 -12.61 Q46.34 -15.13 43.51 -15.13 L20.81 -15.13 Q17.97 -15.13 17.97 -12.61 Z" fill="#9a9a9a"/>
<path d="M-45.40 -5.99 L-17.65 -5.99 M17.65 -5.99 L46.66 -5.99" fill="none" stroke="#0a0a0a" stroke-width="2.4"/>
<path d="M-45.40 11.03 Q-45.40 14.82 -41.61 14.82 L42.88 14.82 Q46.66 14.82 46.66 11.03 L46.66 -12.30 Q46.66 -15.45 43.51 -15.45 L20.81 -15.45 Q17.65 -15.45 17.65 -12.30 L17.65 -1.58 Q17.65 1.89 14.19 1.89 L-14.19 1.89 Q-17.65 1.89 -17.65 -1.58 L-17.65 -12.30 Q-17.65 -15.45 -20.81 -15.45 L-42.24 -15.45 Q-45.40 -15.45 -45.40 -12.30 Z" fill="none" stroke="#0a0a0a" stroke-width="2.9" stroke-linejoin="round"/>
<path d="M-37.83 8.67 L26.80 8.67 M32.31 8.67 L36.25 8.67" fill="none" stroke="#c4e6fa" stroke-width="1.5" stroke-linecap="round"/>
</g>
</g>
</g>

<rect x="1131.5" y="465.0" width="191.0" height="43.0" fill="#000" opacity="0.18" filter="url(#blur1)"/>
<rect x="1132" y="465.5" width="189.5" height="41.5" fill="#fff" fill-opacity="1"/>
<polygon points="1132,465.5 1321.5,465.5 1318.5,468.5 1135.0,468.5" fill="#f4f4f4"/>
<polygon points="1132,465.5 1135.0,468.5 1135.0,504.0 1132,507" fill="#e9e9e9"/>
<polygon points="1132,507 1135.0,504.0 1318.5,504.0 1321.5,507" fill="#b9b9b9"/>
<polygon points="1321.5,465.5 1321.5,507 1318.5,504.0 1318.5,468.5" fill="#8f8f8f"/>
<rect x="1132.5" y="466.0" width="188.5" height="40.5" fill="none" stroke="#9a9a9a" stroke-width="1" opacity="0.7"/>
<text x="1226.75" y="488.0" font-size="26.8" fill="#000" text-anchor="middle" dominant-baseline="central" class="lb" dy="0.7" >從事詐騙工作</text>
<g id="tied">
<g filter="url(#blur2)" opacity="0.85"><path d="M 1386.57 324.68 L 1402.96 324.68 L 1402.96 342.02 L 1408.64 342.02 L 1413.84 329.41 L 1413.84 304.19 Q 1416.20 296.31 1426.77 296.31 L 1448.52 296.31 Q 1459.55 296.31 1461.13 304.19 L 1461.13 329.41 L 1466.33 342.02 L 1471.37 342.02 L 1471.37 324.68 L 1487.77 324.68 L 1487.77 365.66 L 1494.23 369.60 L 1494.23 399.55 L 1487.77 402.70 L 1487.77 462.60 L 1471.37 462.60 L 1471.37 402.70 L 1460.34 402.70 L 1460.34 462.60 L 1413.84 462.60 L 1413.84 402.70 L 1402.96 402.70 L 1402.96 462.60 L 1386.57 462.60 L 1386.57 402.70 L 1379.95 399.55 L 1379.95 369.60 L 1386.57 365.66 Z" fill="none" stroke="#9cc3f2" stroke-width="3.4" stroke-linejoin="round"/></g>
<rect x="1389.41" y="327.52" width="10.72" height="132.41" rx="1.26" fill="#8c9199" stroke="#0a0a0a" stroke-width="3.6" stroke-linejoin="round"/>
<rect x="1474.21" y="327.52" width="10.72" height="132.41" rx="1.26" fill="#8c9199" stroke="#0a0a0a" stroke-width="3.6" stroke-linejoin="round"/>
<rect x="1421.25" y="398.76" width="15.13" height="52.02" rx="0.00" fill="#c2c6cb" stroke="#0a0a0a" stroke-width="3.6" stroke-linejoin="round"/>
<rect x="1438.27" y="398.76" width="15.13" height="52.02" rx="0.00" fill="#c2c6cb" stroke="#0a0a0a" stroke-width="3.6" stroke-linejoin="round"/>
<path d="M 1416.20 459.45 L 1416.20 453.93 Q 1416.20 449.21 1420.93 449.21 L 1436.38 449.21 L 1436.38 459.45 Z" fill="#8c9199" stroke="#0a0a0a" stroke-width="3.6" stroke-linejoin="round"/>
<path d="M 1438.27 459.45 L 1438.27 449.21 L 1453.25 449.21 Q 1457.98 449.21 1457.98 453.93 L 1457.98 459.45 Z" fill="#8c9199" stroke="#0a0a0a" stroke-width="3.6" stroke-linejoin="round"/>
<path d="M 1410.69 368.81 L 1410.69 353.05 Q 1410.69 343.59 1420.15 343.59 L 1454.82 343.59 Q 1464.28 343.59 1464.28 353.05 L 1464.28 368.81 Z" fill="#8fce6e" stroke="#0a0a0a" stroke-width="3.6" stroke-linejoin="round"/>
<path d="M 1428.03 343.59 C 1428.81 351.48 1433.54 353.84 1437.48 353.84 C 1441.42 353.84 1446.15 351.48 1446.94 343.59 Z" fill="#fde3ba" stroke="#0a0a0a" stroke-width="3.6" stroke-linejoin="round"/>
<path d="M 1420.93 368.81 L 1420.93 361.72 M 1454.04 368.81 L 1454.04 361.72" fill="none" stroke="#0a0a0a" stroke-width="2.6"/>
<circle cx="1416.20" cy="327.83" r="3.78" fill="#fde3ba" stroke="#0a0a0a" stroke-width="3.6" stroke-linejoin="round"/>
<circle cx="1458.76" cy="327.83" r="3.78" fill="#fde3ba" stroke="#0a0a0a" stroke-width="3.6" stroke-linejoin="round"/>
<path d="M 1418.10 330.98 L 1418.10 308.92 Q 1418.10 300.25 1426.77 300.25 L 1448.52 300.25 Q 1457.19 300.25 1457.19 308.92 L 1457.19 330.98 C 1457.19 337.29 1450.88 342.02 1437.48 342.02 C 1424.09 342.02 1418.10 337.29 1418.10 330.98 Z" fill="#fde3ba" stroke="#0a0a0a" stroke-width="3.6" stroke-linejoin="round"/>
<path d="M 1418.10 327.04 L 1418.10 308.92 Q 1418.10 300.25 1426.77 300.25 L 1448.52 300.25 Q 1457.19 300.25 1457.19 308.92 L 1457.19 327.04 C 1454.04 321.53 1449.31 317.59 1444.58 313.64 C 1439.85 319.16 1431.97 322.31 1424.09 323.10 C 1421.72 323.89 1419.36 325.47 1418.10 327.04 Z" fill="#8c9199" stroke="#0a0a0a" stroke-width="3.6" stroke-linejoin="round"/>
<path d="M 1425.66 328.62 L 1449.62 328.62 L 1449.62 333.35 C 1449.62 338.08 1444.58 341.23 1437.48 341.23 C 1430.39 341.23 1425.66 338.08 1425.66 333.35 Z" fill="#565b61" stroke="#0a0a0a" stroke-width="2.6" stroke-linejoin="round"/>
<rect x="1382.31" y="368.50" width="109.55" height="9.77" rx="4.89" fill="#120d0a" stroke="#0a0a0a" stroke-width="1.6"/>
<path d="M 1387.04 376.38 L 1394.92 370.55 L 1400.91 370.55 L 1393.03 376.38 Z" fill="#a8683f"/>
<path d="M 1402.96 376.38 L 1410.84 370.55 L 1416.83 370.55 L 1408.95 376.38 Z" fill="#a8683f"/>
<path d="M 1418.88 376.38 L 1426.77 370.55 L 1432.76 370.55 L 1424.87 376.38 Z" fill="#a8683f"/>
<path d="M 1434.80 376.38 L 1442.69 370.55 L 1448.68 370.55 L 1440.79 376.38 Z" fill="#a8683f"/>
<path d="M 1450.73 376.38 L 1458.61 370.55 L 1464.60 370.55 L 1456.72 376.38 Z" fill="#a8683f"/>
<path d="M 1466.65 376.38 L 1474.53 370.55 L 1480.52 370.55 L 1472.64 376.38 Z" fill="#a8683f"/>
<rect x="1382.31" y="379.06" width="109.55" height="9.77" rx="4.89" fill="#120d0a" stroke="#0a0a0a" stroke-width="1.6"/>
<path d="M 1387.04 386.94 L 1394.92 381.11 L 1400.91 381.11 L 1393.03 386.94 Z" fill="#a8683f"/>
<path d="M 1402.96 386.94 L 1410.84 381.11 L 1416.83 381.11 L 1408.95 386.94 Z" fill="#a8683f"/>
<path d="M 1418.88 386.94 L 1426.77 381.11 L 1432.76 381.11 L 1424.87 386.94 Z" fill="#a8683f"/>
<path d="M 1434.80 386.94 L 1442.69 381.11 L 1448.68 381.11 L 1440.79 386.94 Z" fill="#a8683f"/>
<path d="M 1450.73 386.94 L 1458.61 381.11 L 1464.60 381.11 L 1456.72 386.94 Z" fill="#a8683f"/>
<path d="M 1466.65 386.94 L 1474.53 381.11 L 1480.52 381.11 L 1472.64 386.94 Z" fill="#a8683f"/>
<rect x="1382.31" y="389.62" width="109.55" height="9.77" rx="4.89" fill="#120d0a" stroke="#0a0a0a" stroke-width="1.6"/>
<path d="M 1387.04 397.50 L 1394.92 391.67 L 1400.91 391.67 L 1393.03 397.50 Z" fill="#a8683f"/>
<path d="M 1402.96 397.50 L 1410.84 391.67 L 1416.83 391.67 L 1408.95 397.50 Z" fill="#a8683f"/>
<path d="M 1418.88 397.50 L 1426.77 391.67 L 1432.76 391.67 L 1424.87 397.50 Z" fill="#a8683f"/>
<path d="M 1434.80 397.50 L 1442.69 391.67 L 1448.68 391.67 L 1440.79 397.50 Z" fill="#a8683f"/>
<path d="M 1450.73 397.50 L 1458.61 391.67 L 1464.60 391.67 L 1456.72 397.50 Z" fill="#a8683f"/>
<path d="M 1466.65 397.50 L 1474.53 391.67 L 1480.52 391.67 L 1472.64 397.50 Z" fill="#a8683f"/>
</g>

<rect x="1345.5" y="468.0" width="182.0" height="42.0" fill="#000" opacity="0.18" filter="url(#blur1)"/>
<rect x="1346" y="468.5" width="180.5" height="40.5" fill="#fff" fill-opacity="1"/>
<polygon points="1346,468.5 1526.5,468.5 1523.5,471.5 1349.0,471.5" fill="#f4f4f4"/>
<polygon points="1346,468.5 1349.0,471.5 1349.0,506.0 1346,509" fill="#e9e9e9"/>
<polygon points="1346,509 1349.0,506.0 1523.5,506.0 1526.5,509" fill="#b9b9b9"/>
<polygon points="1526.5,468.5 1526.5,509 1523.5,506.0 1523.5,471.5" fill="#8f8f8f"/>
<rect x="1346.5" y="469.0" width="179.5" height="39.5" fill="none" stroke="#9a9a9a" stroke-width="1" opacity="0.7"/>
<text x="1437" y="491.0" font-size="26.8" fill="#000" text-anchor="middle" dominant-baseline="central" class="lb" dy="0.7" letter-spacing="1.4">被禁錮/綁架</text>
<g id="money">
<path d="M 1205.60 541.16 L 1223.59 549.70 L 1212.83 582.78 L 1194.84 575.30 Z" fill="#2f4b87"/>
<path d="M 1223.59 549.70 L 1230.16 552.06 L 1220.97 581.47 L 1214.40 578.84 Z" fill="#9bdcf4"/>
<path d="M 1229.24 552.06 C 1239.09 553.63 1253.53 556.26 1261.41 562.83 C 1269.29 572.02 1275.85 582.52 1280.05 591.71 C 1277.16 593.03 1271.91 590.40 1266.66 585.15 C 1262.72 579.89 1257.47 574.64 1251.56 573.99 C 1247.62 574.64 1246.31 578.58 1248.28 581.86 C 1253.53 587.77 1261.41 595.65 1265.08 600.25 C 1264.03 604.19 1258.78 604.84 1254.84 602.22 C 1245.65 596.96 1232.52 589.09 1221.75 580.55 Z" fill="#f7a86a"/>
<g transform="rotate(21 1273.88 608.78)">
<rect x="1238.43" y="592.37" width="70.90" height="32.83" rx="0.00" fill="#5db43b"/>
<rect x="1240.66" y="594.60" width="66.44" height="28.36" rx="0.00" fill="#86cf5c"/>
<ellipse cx="1273.88" cy="608.78" rx="8.67" ry="9.98" fill="#6cb848"/>
<path d="M 1240.66 603.53 A 5.25 5.25 0 0 1 1240.66 614.03 Z" fill="#6cb848"/>
<path d="M 1301.85 594.60 A 5.25 5.25 0 0 0 1307.10 599.85 L 1307.10 594.60 Z" fill="#6cb848"/>
<path d="M 1301.85 622.96 A 5.25 5.25 0 0 1 1307.10 617.71 L 1307.10 622.96 Z" fill="#6cb848"/>
</g>
<path d="M 1248.28 581.86 C 1253.53 587.77 1261.41 595.65 1265.08 600.25 C 1264.03 604.19 1258.78 604.84 1254.84 602.22 C 1250.90 599.59 1245.65 595.65 1241.71 591.71 Z" fill="#f7a86a"/>
<path d="M 1251.56 573.99 C 1257.47 574.64 1262.72 579.89 1266.66 585.15 C 1271.91 590.40 1277.16 593.03 1280.05 591.71 C 1275.85 582.52 1271.91 575.96 1266.66 569.39 Z" fill="#f7a86a"/>
<circle cx="1261.67" cy="600.64" r="2.10" fill="#fbc4a0"/>
<path d="M 1327.32 635.04 C 1319.18 633.73 1311.30 632.42 1304.74 632.68 C 1295.55 635.04 1285.04 641.61 1277.82 644.89 C 1275.85 647.52 1277.16 650.14 1279.79 651.06 C 1266.66 650.14 1248.28 647.52 1236.46 645.81 C 1232.52 646.20 1231.86 648.83 1233.83 650.80 C 1241.71 657.36 1253.53 666.55 1264.03 669.44 C 1285.04 667.87 1308.68 663.93 1327.32 661.96 Z" fill="#f7a86a"/>
<path d="M 1279.79 651.06 C 1290.29 651.45 1303.42 650.14 1311.30 646.86 C 1303.42 652.77 1290.29 654.08 1281.10 652.77 Z" fill="#e8935a"/>
<rect x="1327.06" y="635.04" width="6.83" height="27.84" rx="0.00" fill="#9bdcf4"/>
<rect x="1333.10" y="634.52" width="19.17" height="31.51" rx="0.00" fill="#2f4b87"/>
</g>

<rect x="1183.5" y="670.0" width="191.0" height="42.5" fill="#000" opacity="0.18" filter="url(#blur1)"/>
<rect x="1184" y="670.5" width="189.5" height="41.0" fill="#fff" fill-opacity="1"/>
<polygon points="1184,670.5 1373.5,670.5 1370.5,673.5 1187.0,673.5" fill="#f4f4f4"/>
<polygon points="1184,670.5 1187.0,673.5 1187.0,708.5 1184,711.5" fill="#e9e9e9"/>
<polygon points="1184,711.5 1187.0,708.5 1370.5,708.5 1373.5,711.5" fill="#b9b9b9"/>
<polygon points="1373.5,670.5 1373.5,711.5 1370.5,708.5 1370.5,673.5" fill="#8f8f8f"/>
<rect x="1184.5" y="671.0" width="188.5" height="40.0" fill="none" stroke="#9a9a9a" stroke-width="1" opacity="0.7"/>
<text x="1278.75" y="692.0" font-size="26.8" fill="#000" text-anchor="middle" dominant-baseline="central" class="lb" dy="0.7" >運送不法金錢</text>
<g id="map">
<path d="M 1445.65 666.05 L 1572.81 666.05 L 1602.68 728.09 L 1417.71 728.09 Z" fill="#f0f0f0"/>
<path d="M 1448.54 667.98 L 1570.31 667.98 L 1597.86 728.09 L 1421.95 728.09 Z" fill="#ffffff"/>
<path d="M 1449.50 668.75 L 1481.68 668.75 L 1477.82 687.24 L 1444.68 678.96 Z" fill="#46b9e9"/>
<path d="M 1496.13 668.75 L 1568.96 668.75 L 1587.65 714.22 L 1494.78 691.10 Z" fill="#4fd9c1"/>
<path d="M 1439.87 689.56 L 1475.51 699.19 L 1470.69 727.71 L 1424.45 727.71 Z" fill="#4fd9c1"/>
<path d="M 1493.82 704.01 L 1580.52 727.71 L 1490.92 727.71 Z" fill="#46b9e9"/>
<path d="M 1589.19 718.46 L 1593.04 727.71 L 1600.75 727.71 Z" fill="#4fd9c1" opacity="0.0"/>
<path d="M 1508.65 692.83 C 1494.78 676.07 1473.58 658.73 1455.28 635.61 C 1446.61 624.05 1443.14 612.49 1443.14 600.92 A 65.51 65.51 0 0 1 1574.16 600.92 C 1574.16 612.49 1570.69 624.05 1562.22 635.61 C 1543.91 658.73 1522.72 676.07 1508.65 692.83 Z M 1508.65 565.47 A 35.45 35.45 0 0 0 1508.65 636.38 A 35.45 35.45 0 0 0 1508.65 565.47 Z" fill="#fa705b" fill-rule="evenodd"/>
</g>

<rect x="1417.5" y="728.5" width="210.0" height="107.0" fill="#000" opacity="0.18" filter="url(#blur1)"/>
<rect x="1418" y="729" width="208.5" height="105.5" fill="#fff" fill-opacity="0.9"/>
<polygon points="1418,729 1626.5,729 1623.5,732.0 1421.0,732.0" fill="#f4f4f4"/>
<polygon points="1418,729 1421.0,732.0 1421.0,831.5 1418,834.5" fill="#e9e9e9"/>
<polygon points="1418,834.5 1421.0,831.5 1623.5,831.5 1626.5,834.5" fill="#b9b9b9"/>
<polygon points="1626.5,729 1626.5,834.5 1623.5,831.5 1623.5,732.0" fill="#8f8f8f"/>
<rect x="1418.5" y="729.5" width="207.5" height="104.5" fill="none" stroke="#9a9a9a" stroke-width="1" opacity="0.7"/>
<text x="1522.25" y="751" font-size="26.8" fill="#000" text-anchor="middle" dominant-baseline="central" class="lb" dy="0.7" >海外地方</text>
<text x="1522.25" y="786" font-size="26.8" fill="#000" text-anchor="middle" dominant-baseline="central" class="lb" dy="0.7" ><tspan fill="#000">例如</tspan><tspan fill="#e0690f">東南亞</tspan><tspan fill="#000">國家</tspan></text>
<text x="1522.25" y="815" font-size="26.8" fill="#000" text-anchor="middle" dominant-baseline="central" class="lb" dy="0.7" ><tspan fill="#000">或</tspan><tspan fill="#e0690f">中國台灣地區</tspan></text>
<g fill="none" stroke="#fb0a0d" stroke-width="6.4" stroke-linejoin="miter" stroke-miterlimit="10">
<path d="M677.1 295.0 A467.5 467.5 0 0 0 202.9 435.9"/>
<path d="M201.6 402.5 L202.9 435.9 L237.5 434.7"/>
<path d="M865.3 389.7 A617.1 617.1 0 0 1 938.3 489.7"/>
<path d="M950.5 456.5 L938.3 489.7 L908.5 476.2"/>
<path d="M139.4 619.5 A318.2 318.2 0 0 0 244.1 872.4"/>
<path d="M247.3 838.0 L244.1 872.4 L211.5 866.5"/>
<path d="M330.8 942.2 A459.4 459.4 0 0 0 662.0 979.5"/>
<path d="M636.0 957.2 L662.0 979.5 L639.5 1005.5"/>
<path d="M947.1 740.2 A211.7 211.7 0 0 1 872.1 855.5"/>
<path d="M871.8 823.2 L872.1 855.5 L907.7 855.1"/>
</g>

<rect x="1013.1" y="891.3" width="293.69999999999993" height="115.90000000000009" fill="#000" opacity="0.18" filter="url(#blur1)"/>
<rect x="1013.6" y="891.8" width="292.19999999999993" height="114.40000000000009" fill="#fff" fill-opacity="0.88"/>
<polygon points="1013.6,891.8 1305.8,891.8 1302.8,894.8 1016.6,894.8" fill="#f4f4f4"/>
<polygon points="1013.6,891.8 1016.6,894.8 1016.6,1003.2 1013.6,1006.2" fill="#e9e9e9"/>
<polygon points="1013.6,1006.2 1016.6,1003.2 1302.8,1003.2 1305.8,1006.2" fill="#b9b9b9"/>
<polygon points="1305.8,891.8 1305.8,1006.2 1302.8,1003.2 1302.8,894.8" fill="#8f8f8f"/>
<rect x="1014.1" y="892.3" width="291.19999999999993" height="113.40000000000009" fill="none" stroke="#9a9a9a" stroke-width="1" opacity="0.7"/>
<text x="1023.7" y="911.4" font-size="21.9" fill="#000" text-anchor="start" dominant-baseline="central" class="lb" dy="0.7" >抵步後，犯罪集團會要求有</text>
<text x="1023.7" y="937.2" font-size="21.9" fill="#000" text-anchor="start" dominant-baseline="central" class="lb" dy="0.7" >關人士交出手提電話及護照，</text>
<text x="1023.7" y="963.5" font-size="21.9" fill="#000" text-anchor="start" dominant-baseline="central" class="lb" dy="0.7" >並提供另一部手提電話以便</text>
<text x="1023.7" y="989.5" font-size="21.9" fill="#000" text-anchor="start" dominant-baseline="central" class="lb" dy="0.7" >接收上線的工作指示。</text>

<g id="passport">
<g transform="translate(1310.12 932.40) rotate(14.4)">
<rect x="0" y="0" width="63.8" height="81.2" rx="1.2" fill="#1f5b3d"/>
<rect x="0" y="0" width="3" height="81.2" fill="#174a31"/>
<text x="32.5" y="17.2" font-size="8.6" font-weight="700" fill="#e6c878" class="sans" text-anchor="middle" textLength="40" lengthAdjust="spacingAndGlyphs">PASSPORT</text>
<circle cx="33" cy="45" r="8" fill="none" stroke="#d9c27a" stroke-width="1.1"/>
<path d="M28 42 C31 39 35 39 37 42 C36 46 32 48 29 47 Z" fill="#e6cf8a"/>
<text x="32.5" y="75.5" font-size="3.3" font-weight="700" fill="#cdb66e" class="sans" text-anchor="middle" textLength="34" lengthAdjust="spacingAndGlyphs">AROUND THE WORLD</text>
</g>
<path d="M 1312.01 962.88 L 1342.50 971.50 Q 1346.17 972.76 1344.07 976.23 L 1300.24 1022.17 Q 1296.77 1025.11 1292.57 1023.01 L 1261.77 1006.40 Q 1258.41 1004.09 1261.77 1000.72 L 1306.76 964.15 Q 1308.86 962.25 1312.01 962.88 Z" fill="#cfcfcf" stroke="#6f6f6f" stroke-width="0.8"/>
<path d="M 1261.77 1004.09 L 1292.57 1020.69 Q 1296.77 1022.80 1300.24 1019.85 L 1344.07 974.13 L 1344.07 976.23 L 1300.24 1022.17 Q 1296.77 1025.11 1292.57 1023.01 L 1261.77 1006.40 Z" fill="#3a3a3a"/>
<path d="M 1312.22 963.09 L 1342.29 971.29 Q 1345.12 972.34 1343.02 974.66 L 1299.40 1018.28 Q 1296.77 1020.38 1293.62 1018.80 L 1264.19 1003.04 Q 1261.04 1001.14 1263.66 999.04 L 1307.28 964.36 Q 1309.39 962.57 1312.22 963.09 Z" fill="#111111"/>
<path d="M 1313.06 965.20 L 1340.39 972.55 Q 1324.10 972.55 1313.06 965.20 Z" fill="#3a3a3a" opacity="0.6"/>
<path d="M 1304.55 971.08 L 1309.81 972.97 L 1307.07 976.13 L 1301.82 974.24 Z" fill="#b13ad8"/>
<path d="M 1311.07 973.50 L 1316.32 975.39 L 1313.59 978.55 L 1308.34 976.65 Z" fill="#5bc42a"/>
<path d="M 1317.58 975.92 L 1322.84 977.81 L 1320.11 980.96 L 1314.85 979.07 Z" fill="#e83ab0"/>
<path d="M 1324.10 978.34 L 1329.36 980.23 L 1326.62 983.38 L 1321.37 981.49 Z" fill="#e0262a"/>
<path d="M 1298.03 975.81 L 1303.29 977.70 L 1300.56 980.86 L 1295.30 978.97 Z" fill="#e8262c"/>
<path d="M 1304.55 978.23 L 1309.81 980.12 L 1307.07 983.28 L 1301.82 981.38 Z" fill="#2a6ae0"/>
<path d="M 1311.07 980.65 L 1316.32 982.54 L 1313.59 985.69 L 1308.34 983.80 Z" fill="#a6d820"/>
<path d="M 1317.58 983.06 L 1322.84 984.96 L 1320.11 988.11 L 1314.85 986.22 Z" fill="#9a3ae0"/>
<path d="M 1291.52 980.54 L 1296.77 982.43 L 1294.04 985.59 L 1288.78 983.70 Z" fill="#d834c0"/>
<path d="M 1298.03 982.96 L 1303.29 984.85 L 1300.56 988.01 L 1295.30 986.11 Z" fill="#22c0d8"/>
<path d="M 1304.55 985.38 L 1309.81 987.27 L 1307.07 990.42 L 1301.82 988.53 Z" fill="#f08a1a"/>
<path d="M 1311.07 987.79 L 1316.32 989.69 L 1313.59 992.84 L 1308.34 990.95 Z" fill="#28a8e8"/>
<path d="M 1285.00 985.27 L 1290.26 987.16 L 1287.52 990.32 L 1282.27 988.43 Z" fill="#f0d020"/>
<path d="M 1291.52 987.69 L 1296.77 989.58 L 1294.04 992.73 L 1288.78 990.84 Z" fill="#3ac830"/>
<path d="M 1298.03 990.11 L 1303.29 992.00 L 1300.56 995.15 L 1295.30 993.26 Z" fill="#8a44e0"/>
<path d="M 1304.55 992.52 L 1309.81 994.42 L 1307.07 997.57 L 1301.82 995.68 Z" fill="#e02a30"/>
<path d="M 1278.48 990.00 L 1283.74 991.89 L 1281.01 995.05 L 1275.75 993.16 Z" fill="#20c0e8"/>
<path d="M 1285.00 992.42 L 1290.26 994.31 L 1287.52 997.46 L 1282.27 995.57 Z" fill="#a8e020"/>
<path d="M 1291.52 994.84 L 1296.77 996.73 L 1294.04 999.88 L 1288.78 997.99 Z" fill="#28b0f0"/>
<path d="M 1298.03 997.25 L 1303.29 999.15 L 1300.56 1002.30 L 1295.30 1000.41 Z" fill="#8a40e0"/>
<path d="M 1273.65 1000.41 L 1275.02 1001.14 M 1278.38 1003.04 L 1279.75 1003.77 M 1283.42 1005.66 L 1284.79 1006.40 M 1288.36 1008.08 L 1289.73 1008.82" fill="none" stroke="#777" stroke-width="0.5"/>
</g>

<path id="ct1" d="M272.58 420.10 A427.64 427.64 0 0 1 624.72 338.54" fill="none"/>
<text font-size="29.6" fill="#0a0a0a" class="sans" font-weight="500" text-anchor="middle" letter-spacing="0.9"><textPath href="#ct1" startOffset="50%">網上高薪招攬求職者</textPath></text>
<text x="916.6" y="413.9" font-size="28.5" fill="#0a0a0a" class="sans" font-weight="500" text-anchor="middle" dominant-baseline="central" letter-spacing="3.6" transform="rotate(53.5 916.6 413.9) translate(1.8 0)">招攬</text>
<path id="ct3" d="M367.63 933.23 A290.80 290.80 0 0 0 612.03 959.35" fill="none"/>
<text font-size="25.0" fill="#0a0a0a" class="sans" font-weight="500" text-anchor="middle" letter-spacing="0.9"><textPath href="#ct3" startOffset="50%">發送個人資料</textPath></text>

</svg>
</body>
</html>
